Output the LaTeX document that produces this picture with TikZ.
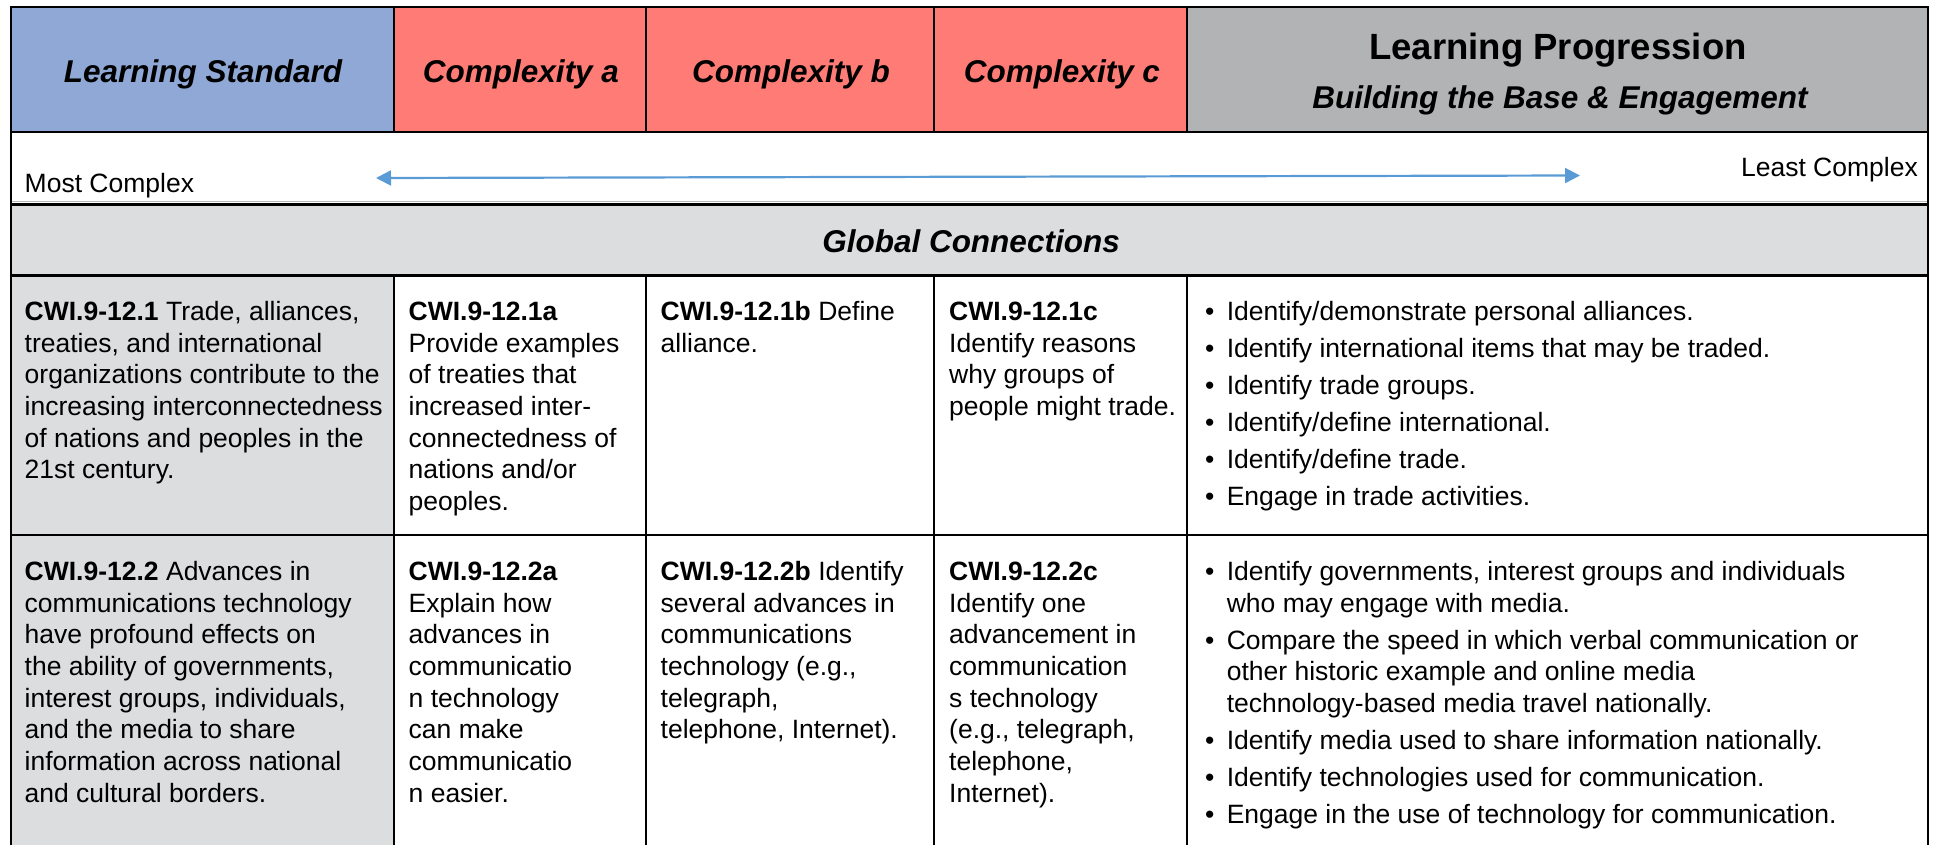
\documentclass[tikz,border=0pt]{standalone}
\usepackage{fontspec}
\setmainfont{Liberation Sans}
\usetikzlibrary{arrows.meta}
\definecolor{lsblue}{HTML}{8FA8D6}
\definecolor{salmon}{HTML}{FF7B76}
\definecolor{lpgray}{HTML}{B1B3B5}
\definecolor{cellgray}{HTML}{DCDDDF}
\definecolor{arrowblue}{HTML}{5B9BD5}
\definecolor{sepgray}{HTML}{B8B8B8}
\newcommand{\cellbox}[1]{\vtop{\fontsize{26.5}{31.67}\selectfont\baselineskip=31.67pt\lineskiplimit=-100pt #1}}
\newcommand{\tline}[1]{\hbox{#1}}
\newcommand{\bitem}[1]{\hbox{\makebox[21.6pt][l]{\textbullet}#1}}
\newcommand{\bcont}[1]{\hbox{\hspace*{21.6pt}#1}}
\newcommand{\bgap}{\vskip5.3pt}
\tikzset{
  grid/.style={line width=2.2pt, black},
  hdr/.style={font=\fontsize{31.5}{36}\selectfont\bfseries\itshape, inner sep=0pt, anchor=base},
  hdrbig/.style={font=\fontsize{36.5}{40}\selectfont\bfseries, inner sep=0pt, anchor=base},
  body/.style={inner sep=0pt, anchor=base west},
  plain/.style={font=\fontsize{26.5}{31.67}\selectfont, inner sep=0pt},
  twoway/.style={arrowblue, line width=2.2pt, {Triangle[length=15pt,width=15pt]}-{Triangle[length=15pt,width=15pt]}}
}
\begin{document}
\begin{tikzpicture}[x=1pt,y=-1pt]
\useasboundingbox (0,0) rectangle (1933,845);
% fills
\fill[lsblue] (11,7) rectangle (394,132);
\fill[salmon] (394,7) rectangle (1187,132);
\fill[lpgray] (1187,7) rectangle (1928,132);
\fill[cellgray] (11,204) rectangle (1928,275.5);
\fill[cellgray] (11,275.5) rectangle (394,860);
% grid lines
\draw[sepgray, line width=1pt] (11,202) -- (1928,202);
\draw[grid] (11,132) -- (1928,132);
\draw[grid] (11,204.5) -- (1928,204.5);
\draw[grid] (11,275.5) -- (1928,275.5);
\draw[grid] (11,535) -- (1928,535);
\foreach \x in {394,646,934,1187} {
  \draw[grid] (\x,7) -- (\x,132);
  \draw[grid] (\x,275.5) -- (\x,860);
}
\draw[grid, line join=miter] (11,860) -- (11,7) -- (1928,7) -- (1928,860);
% header
\node[hdr] (hls) at (203,82.7) {Learning Standard};
\node[hdr] (hca) at (521,82.7) {Complexity a};
\node[hdr] (hcb) at (791,82.7) {Complexity b};
\node[hdr] (hcc) at (1062,82.7) {Complexity c};
\node[hdrbig] (hlp) at (1558,59.3) {Learning Progression};
\node[hdr] (hlps) at (1560,109) {Building the Base \& Engagement};
% arrow row
\node[plain, anchor=base west] (most) at (24.5,193) {Most Complex};
\node[plain, anchor=base east] (least) at (1918,177) {Least Complex};
\coordinate (al) at (376,178);
\coordinate (ar) at (1580,175.5);
\draw[twoway] (al) -- (ar);
% section
\node[hdr] (gc) at (971,252) {Global Connections};
% row 1
\node[body] (s1) at (24.5,320.5) {\cellbox{%
\tline{\textbf{CWI.9-12.1} Trade, alliances,}
\tline{treaties, and international}
\tline{organizations contribute to the}
\tline{increasing interconnectedness}
\tline{of nations and peoples in the}
\tline{21st century.}}};
\node[body] (a1) at (408.5,320.5) {\cellbox{%
\tline{\textbf{CWI.9-12.1a}}
\tline{Provide examples}
\tline{of treaties that}
\tline{increased inter-}
\tline{connectedness of}
\tline{nations and/or}
\tline{peoples.}}};
\node[body] (b1) at (660.5,320.5) {\cellbox{%
\tline{\textbf{CWI.9-12.1b} Define}
\tline{alliance.}}};
\node[body] (c1) at (949,320.5) {\cellbox{%
\tline{\textbf{CWI.9-12.1c}}
\tline{Identify reasons}
\tline{why groups of}
\tline{people might trade.}}};
\node[body] (p1) at (1205,320.5) {\cellbox{%
\bitem{Identify/demonstrate personal alliances.}\bgap
\bitem{Identify international items that may be traded.}\bgap
\bitem{Identify trade groups.}\bgap
\bitem{Identify/define international.}\bgap
\bitem{Identify/define trade.}\bgap
\bitem{Engage in trade activities.}}};
% row 2
\node[body] (s2) at (24.5,580.5) {\cellbox{%
\tline{\textbf{CWI.9-12.2} Advances in}
\tline{communications technology}
\tline{have profound effects on}
\tline{the ability of governments,}
\tline{interest groups, individuals,}
\tline{and the media to share}
\tline{information across national}
\tline{and cultural borders.}}};
\node[body] (a2) at (408.5,580.5) {\cellbox{%
\tline{\textbf{CWI.9-12.2a}}
\tline{Explain how}
\tline{advances in}
\tline{communicatio}
\tline{n technology}
\tline{can make}
\tline{communicatio}
\tline{n easier.}}};
\node[body] (b2) at (660.5,580.5) {\cellbox{%
\tline{\textbf{CWI.9-12.2b} Identify}
\tline{several advances in}
\tline{communications}
\tline{technology (e.g.,}
\tline{telegraph,}
\tline{telephone, Internet).}}};
\node[body] (c2) at (949,580.5) {\cellbox{%
\tline{\textbf{CWI.9-12.2c}}
\tline{Identify one}
\tline{advancement in}
\tline{communication}
\tline{s technology}
\tline{(e.g., telegraph,}
\tline{telephone,}
\tline{Internet).}}};
\node[body] (p2) at (1205,580.5) {\cellbox{%
\bitem{Identify governments, interest groups and individuals}
\bcont{who may engage with media.}\bgap
\bitem{Compare the speed in which verbal communication or}
\bcont{other historic example and online media}
\bcont{technology-based media travel nationally.}\bgap
\bitem{Identify media used to share information nationally.}\bgap
\bitem{Identify technologies used for communication.}\bgap
\bitem{Engage in the use of technology for communication.}}};
\end{tikzpicture}
\end{document}
